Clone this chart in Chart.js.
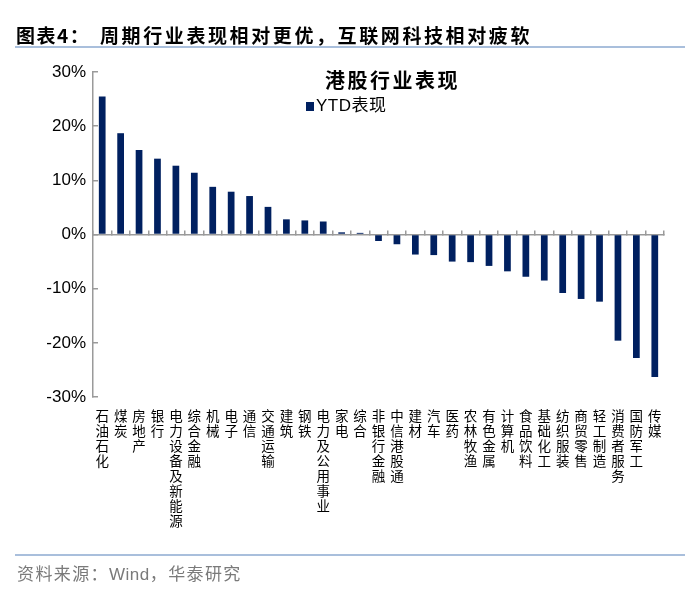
<!DOCTYPE html>
<html>
<head>
<meta charset="utf-8">
<script src="https://cdn.jsdelivr.net/npm/chart.js@4.4.0/dist/chart.umd.min.js"></script>
<style>
  html, body { margin: 0; padding: 0; background: #fff; }
  #wrap { position: relative; width: 700px; height: 605px; overflow: hidden; }
  #c { position: absolute; left: 0; top: 0; }
  .ov { position: absolute; white-space: nowrap; pointer-events: none; }
  #title { left: 16px; top: 21px; font: bold 19px "Noto Sans CJK SC", sans-serif; letter-spacing: 2.6px; color: #000; line-height: 28px; }
  #title .pre { display: inline-block; width: 84px; letter-spacing: 1.5px; }
  #topline { left: 15px; top: 46px; width: 670px; height: 2px; background: #a9bfdc; }
  #botline { left: 15px; top: 554px; width: 670px; height: 2px; background: #a9bfdc; }
  #source { left: 17px; top: 561px; font: 17px "Noto Sans CJK SC", sans-serif; letter-spacing: 1.4px; color: #7a7a7a; line-height: 24px; }
  #source .lat { font-family: "Liberation Sans", Arial, sans-serif; letter-spacing: 0.5px; }
  #ctitle { left: 325px; top: 66px; font: bold 20px "Noto Sans CJK SC", sans-serif; letter-spacing: 2.5px; color: #000; line-height: 28px; }
  #legend { left: 306px; top: 92px; font: 17px "Noto Sans CJK SC", sans-serif; color: #000; line-height: 24px; letter-spacing: 0.5px; }
  #legend .sw { display: inline-block; width: 8px; height: 9px; background: #002060; margin-right: 2px; vertical-align: 0px; }
  #legend .lat { font-family: "Liberation Sans", Arial, sans-serif; }
</style>
</head>
<body>
<div id="wrap">
  <canvas id="c" width="700" height="605"></canvas>
  <div class="ov" id="title"><span class="pre">图表4：</span>周期行业表现相对更优，互联网科技相对疲软</div>
  <div class="ov" id="topline"></div>
  <div class="ov" id="ctitle">港股行业表现</div>
  <div class="ov" id="legend"><span class="sw"></span><span class="lat">YTD</span>表现</div>
  <div class="ov" id="botline"></div>
  <div class="ov" id="source">资料来源：<span class="lat">Wind</span>，华泰研究</div>
</div>
<script>
const categories = ["石油石化","煤炭","房地产","银行","电力设备及新能源","综合金融","机械","电子","通信","交通运输","建筑","钢铁","电力及公用事业","家电","综合","非银行金融","中信港股通","建材","汽车","医药","农林牧渔","有色金属","计算机","食品饮料","基础化工","纺织服装","商贸零售","轻工制造","消费者服务","国防军工","传媒"];
const ytdValues = [25.5, 18.7, 15.6, 14.0, 12.7, 11.4, 8.8, 7.9, 7.1, 5.1, 2.8, 2.6, 2.4, 0.4, 0.3, -1.2, -1.8, -3.7, -3.8, -5.0, -5.1, -5.8, -6.8, -7.8, -8.5, -10.8, -11.9, -12.4, -19.6, -22.8, -26.3];
const seriesName = "YTD表现";
const yMin = -30, yMax = 30, yStep = 10;

const verticalLabels = categories.map(s => Array.from(s));
const axisGray = '#9a9a9a';

new Chart(document.getElementById('c'), {
  type: 'bar',
  data: {
    labels: verticalLabels,
    datasets: [{
      label: seriesName,
      data: ytdValues,
      backgroundColor: '#002060',
      borderWidth: 0,
      categoryPercentage: 1,
      barPercentage: 0.365,
      xAxisID: 'x',
      yAxisID: 'y'
    }]
  },
  options: {
    responsive: false,
    animation: false,
    events: [],
    layout: { padding: { left: 0, top: 72, right: 36, bottom: 68 } },
    plugins: { legend: { display: false }, tooltip: { enabled: false }, title: { display: false } },
    scales: {
      x: {
        type: 'category',
        position: 'bottom',
        grid: { display: false, drawTicks: false },
        border: { display: false },
        ticks: {
          autoSkip: false, maxRotation: 0, minRotation: 0, padding: 11,
          color: '#000',
          font: { family: '"Noto Sans CJK SC", sans-serif', size: 13.5, lineHeight: '15px' }
        },
        afterFit: s => { s.height = 140; }
      },
      x2: {
        type: 'category',
        position: { y: 0 },
        offset: true,
        grid: { display: true, drawOnChartArea: false, drawTicks: true, tickLength: -5, offset: true, color: axisGray, lineWidth: 1.5 },
        border: { display: true, color: axisGray, width: 1.5 },
        ticks: { display: false }
      },
      y: {
        min: yMin, max: yMax,
        position: 'left',
        ticks: {
          stepSize: yStep, padding: 12, color: '#000',
          font: { family: '"Liberation Sans", Arial, sans-serif', size: 17 },
          callback: v => v + '%'
        },
        grid: { display: true, drawOnChartArea: false, drawTicks: true, tickLength: -5, color: axisGray, lineWidth: 1.5 },
        border: { display: true, color: axisGray, width: 1.5 },
        afterFit: s => { s.width = 93; }
      }
    }
  }
});
</script>
</body>
</html>
